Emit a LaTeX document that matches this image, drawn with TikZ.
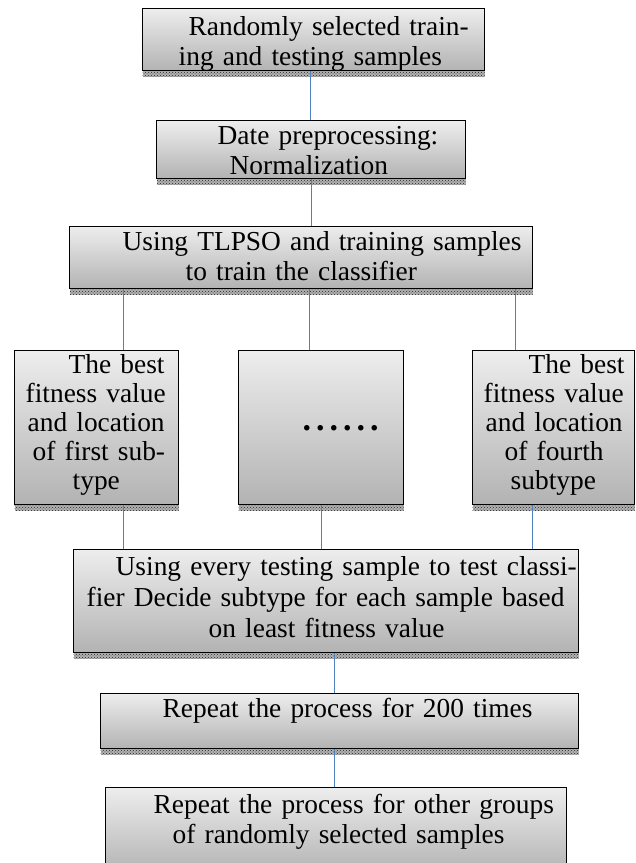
\documentclass[tikz,border=0pt]{standalone}
\usepackage{fontspec}
\setmainfont{Liberation Serif}
\usepackage{tikz}
\usetikzlibrary{shadows,patterns}
\usepackage{xcolor}
\definecolor{lnblue}{RGB}{79,129,189}
\tikzstyle{stepbox} = [rectangle, anchor=north west, draw=black, line width=1.4pt, top color=black!7, bottom color=black!30, inner sep=0pt, align=left, font=\fontsize{27.4}{30}\selectfont, drop shadow={shadow xshift=0pt, shadow yshift=-6pt, opacity=1, fill=black!30}, drop shadow={shadow xshift=0pt, shadow yshift=-6pt, opacity=1, pattern=crosshatch dots, pattern color=black!85}]
\tikzstyle{link} = [draw=lnblue, line width=1.1pt]

\begin{document}
\begin{tikzpicture}[x=1pt, y=-1pt]
\useasboundingbox (0,0) rectangle (636,863);
% Boxes
\node[stepbox, text width=342pt, text height=27pt, text depth=35pt] (rand) at (142,8) {\hspace*{46pt}Randomly selected train-\\\hspace*{36pt}ing and testing samples};
\node[stepbox, text width=309pt, text height=24pt, text depth=34pt] (norm) at (156,120) {\hspace*{61pt}Date preprocessing:\\\hspace*{73pt}Normalization};
\node[stepbox, text width=463pt, text height=24pt, text depth=38pt] (train) at (69,226) {\hspace*{53pt}Using TLPSO and training samples\\\hspace*{116pt}to train the classifier};

\node[stepbox, text width=164pt, text height=23pt, text depth=131pt, font=\fontsize{27.4}{29}\selectfont] (first) at (14,350) {\hspace*{54pt}The best\\\hspace*{11pt}fitness value\\\hspace*{13pt}and location\\\hspace*{18pt}of first sub-\\\hspace*{58pt}type};
\node[stepbox, text width=165pt, text height=80pt, text depth=74pt] (dots) at (238,350) {\hspace*{64pt}\fontsize{34}{34}\selectfont\bfseries .\hspace{5pt}.\hspace{5pt}.\hspace{5pt}.\hspace{5pt}.\hspace{5pt}.};
\node[stepbox, text width=162pt, text height=23pt, text depth=131pt, font=\fontsize{27.4}{29}\selectfont] (fourth) at (472,350) {\hspace*{56pt}The best\\\hspace*{11pt}fitness value\\\hspace*{13pt}and location\\\hspace*{32pt}of fourth\\\hspace*{38pt}subtype};

\node[stepbox, text width=505pt, text height=26pt, text depth=77pt, font=\fontsize{27.4}{31}\selectfont] (test) at (73,549) {\hspace*{42pt}\mbox{Using every testing sample to test classi-}\\\hspace*{13pt}\mbox{fier Decide subtype for each sample based}\\\hspace*{135pt}on least fitness value};
\node[stepbox, text width=478pt, text height=24pt, text depth=31pt] (rep) at (100,693) {\hspace*{62pt}Repeat the process for 200 times};
\node[stepbox, text width=461pt, text height=26pt, text depth=60pt] (other) at (105,787) {\hspace*{48pt}Repeat the process for other groups\\\hspace*{67pt}of randomly selected samples};

% Links
\draw[link] ([xshift=-3pt]rand.south) -- ([xshift=-3pt]rand.south |- norm.north);
\draw[link] (norm.south) -- (norm.south |- train.north);
\draw[link] ([xshift=27pt]first.north) -- ([xshift=27pt]first.north |- train.south);
\draw[link] ([xshift=-12pt]dots.north) -- ([xshift=-12pt]dots.north |- train.south);
\draw[link] ([xshift=-38pt]fourth.north) -- ([xshift=-38pt]fourth.north |- train.south);
\draw[link] ([xshift=27pt]first.south) -- ([xshift=27pt]first.south |- test.north);
\draw[link] (dots.south) -- (dots.south |- test.north);
\draw[link] ([xshift=-21pt]fourth.south) -- ([xshift=-21pt]fourth.south |- test.north);
\draw[link] ([xshift=-5pt]rep.north) -- ([xshift=-5pt]rep.north |- test.south);
\draw[link] ([xshift=-2pt]other.north) -- ([xshift=-2pt]other.north |- rep.south);
\end{tikzpicture}
\end{document}
